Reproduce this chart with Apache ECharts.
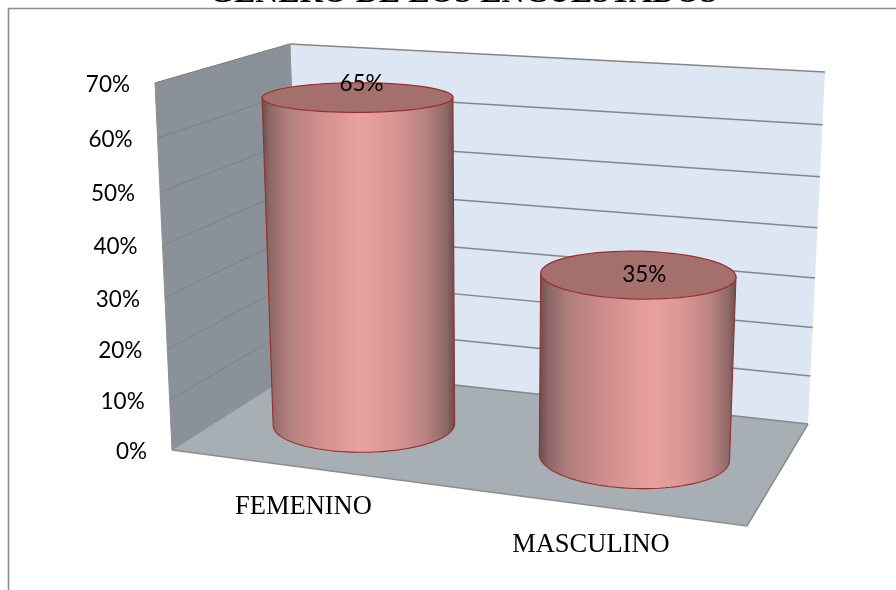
<!DOCTYPE html>
<html><head><meta charset="utf-8">
<style>html,body{margin:0;padding:0;background:#fff}#c{width:896px;height:590px}</style>
<script src="https://cdn.jsdelivr.net/npm/echarts@6/dist/echarts.min.js"></script>
</head><body><div id="c"></div>
<script>
const chartTitle = 'GENERO DE LOS ENCUESTADOS';
const categories = ['FEMENINO', 'MASCULINO'];
const values = [65, 35];
const yTicks = [0, 10, 20, 30, 40, 50, 60, 70];
const yTickLabels = ['0%', '10%', '20%', '30%', '40%', '50%', '60%', '70%'];

/* ---- projection of the 3D box (u: left-right, d: front-back, h: height) ---- */
const BOX = {
  f0L: [172, 450], f0R: [747, 526], b0L: [301, 368], b0R: [808, 424],
  f1L: [155, 83],  f1R: [762, 128], b1L: [290, 44],  b1R: [825, 72]
};
const K = 0.055;
const warp = h => h * (1 - K) / (1 - K * h);
const mix = (a, b, t) => [a[0] + (b[0] - a[0]) * t, a[1] + (b[1] - a[1]) * t];
function P(u, d, h) {
  const t = warp(h);
  const f0 = mix(BOX.f0L, BOX.f0R, u), b0 = mix(BOX.b0L, BOX.b0R, u);
  const f1 = mix(BOX.f1L, BOX.f1R, u), b1 = mix(BOX.b1L, BOX.b1R, u);
  return mix(mix(f0, b0, d), mix(f1, b1, d), t);
}
/* grid used purely as the scale: pixel -> normalised axis fractions */
const GRID = { left: 100, top: 100, width: 600, height: 350 };
const U_SHIFT = -0.0145;
const fracU = x => (x - GRID.left) / GRID.width + U_SHIFT;
const fracH = y => 1 - (y - GRID.top) / GRID.height;
const poly = (pts, style, z) => ({ type: 'polygon', shape: { points: pts }, style, z2: z || 0 });
const line = (pts, stroke, w) => ({ type: 'polyline', shape: { points: pts }, style: { fill: null, stroke, lineWidth: w } });

const BASE_STOPS = [[0,'#664b4b'],[.04,'#8b6665'],[.13,'#b07e7c'],[.3,'#d08e8c'],[.5,'#e8a19e'],[.68,'#da9694'],[.85,'#b88280'],[.95,'#8f6968'],[1,'#6a4d4c']];
function shade(u) {
  const peak = .5 + (u - .236) * .16;
  return { type: 'linear', x: 0, y: 0, x2: 1, y2: 0, colorStops: BASE_STOPS.map(s => ({
    offset: s[0] <= .5 ? s[0] / .5 * peak : peak + (s[0] - .5) / .5 * (1 - peak), color: s[1] })) };
}
function section(u, h) {
  const c = P(u, .5, h);
  c[1] -= 16 * h * (1 - h);
  const t = warp(h);
  const width = P(1, .5, h)[0] - P(0, .5, h)[0];
  const rx = width * (.164 + .016 * u);
  const ry = (P(u, 0, h)[1] - P(u, 1, h)[1]) * .32;
  const slope = (u - .35) * .08 * (1 - .8 * t);
  return (th) => {
    const cs = Math.cos(th), sn = Math.sin(th);
    return [c[0] + rx * cs, c[1] + ry * sn + slope * rx * cs];
  };
}
function arc(fn, a, b, n) { const r = []; for (let i = 0; i <= n; i++) r.push(fn(a + (b - a) * i / n)); return r; }

const WALL_LEFT = '#8a9198', WALL_BACK = '#dde6f3', FLOOR = '#a7afb5', EDGE = '#8c8c8c';
const LABEL_FONT = '22.5px Lato';

const option = {
  animation: false,
  backgroundColor: '#fff',
  title: { text: chartTitle, left: 204, top: -27, textStyle: { fontFamily: 'Liberation Serif', fontWeight: 'bold', fontSize: 32, color: '#000' } },
  grid: GRID,
  xAxis: { type: 'category', data: categories, show: false },
  yAxis: { type: 'value', min: 0, max: 70, interval: 10, show: false },
  graphic: [{ type: 'polyline', z: -1, shape: { points: [[8.5, 592], [8.5, 8.5], [898, 8.5]] }, style: { fill: null, stroke: '#8e8e8e', lineWidth: 1.6 } }],
  series: [
    { type: 'custom', coordinateSystem: 'none', silent: true, z: 1, data: [0], renderItem: () => ({
        type: 'group', children: [
          poly([P(0,1,0), P(0,1,1), P(1,1,1), P(1,1,0)], { fill: WALL_BACK }),
          poly([P(0,0,0), P(0,0,1), P(0,1,1), P(0,1,0)], { fill: WALL_LEFT, stroke: '#909090', lineWidth: 1 }),
          poly([P(0,0,0), P(0,1,0), P(1,1,0), P(1,0,0)], { fill: FLOOR }),
          line([P(0,0,0), P(1,0,0), P(1,1,0)], EDGE, 1.5)
        ] }) },
    { type: 'custom', silent: true, z: 2, data: yTicks.map(v => [0, v]), encode: { x: 0, y: 1 }, renderItem: (p, api) => {
        const h = fracH(api.coord([0, api.value(1)])[1]);
        return { type: 'group', children: [
          line([P(0,0,h), P(0,1,h)], h === 0 ? '#8f9396' : '#808184', 1),
          line([P(0,1,h), P(1,1,h)], '#868686', 1.5)
        ] };
      } },
    { type: 'custom', silent: true, z: 3, data: values.map((v, i) => [i, v]), encode: { x: 0, y: 1 }, renderItem: (p, api) => {
        const i = api.value(0);
        const u = fracU(api.coord([i, 0])[0]);
        const h = fracH(api.coord([i, api.value(1)])[1]);
        const top = section(u, h), base = section(u, 0);
        const body = [top(Math.PI)].concat([base(Math.PI)], arc(base, Math.PI, 0, 48), [top(0)]);
        return { type: 'group', children: [
          poly(body, { fill: shade(u), stroke: '#96302e', lineWidth: 1.1 }),
          poly(arc(top, 0, Math.PI * 2, 72), { fill: '#a5706c', stroke: '#96302e', lineWidth: 1.2 })
        ] };
      } },
    { type: 'custom', silent: true, z: 4, data: yTicks.map((v, i) => [0, v, i]), encode: { x: 0, y: 1 }, renderItem: (p, api) => {
        const pt = P(0, 0, fracH(api.coord([0, api.value(1)])[1]));
        return { type: 'text', style: { text: yTickLabels[api.value(2)], x: pt[0] - 25, y: pt[1] + 1.5, align: 'right', verticalAlign: 'middle', font: LABEL_FONT, fill: '#000' } };
      } },
    { type: 'custom', silent: true, z: 5, data: values.map((v, i) => [i, v]), encode: { x: 0, y: 1 }, renderItem: (p, api) => {
        const i = api.value(0);
        const u = fracU(api.coord([i, 0])[0]);
        const h = fracH(api.coord([i, api.value(1)])[1]);
        const c = P(u, .5, h), f = P(u, 0, 0);
        const nudge = i === 0 ? [4, -15] : [6, -4];
        return { type: 'group', children: [
          { type: 'text', style: { text: api.value(1) + '%', x: c[0] + nudge[0], y: c[1] + nudge[1], align: 'center', verticalAlign: 'middle', font: LABEL_FONT, fill: '#000' } },
          { type: 'text', style: { text: categories[i], x: f[0] - 4, y: f[1] + 39, align: 'center', verticalAlign: 'middle', font: '26.5px "Liberation Serif"', fill: '#000' } }
        ] };
      } }
  ]
};
echarts.init(document.getElementById('c'), null, { renderer: 'canvas' }).setOption(option);
</script></body></html>
